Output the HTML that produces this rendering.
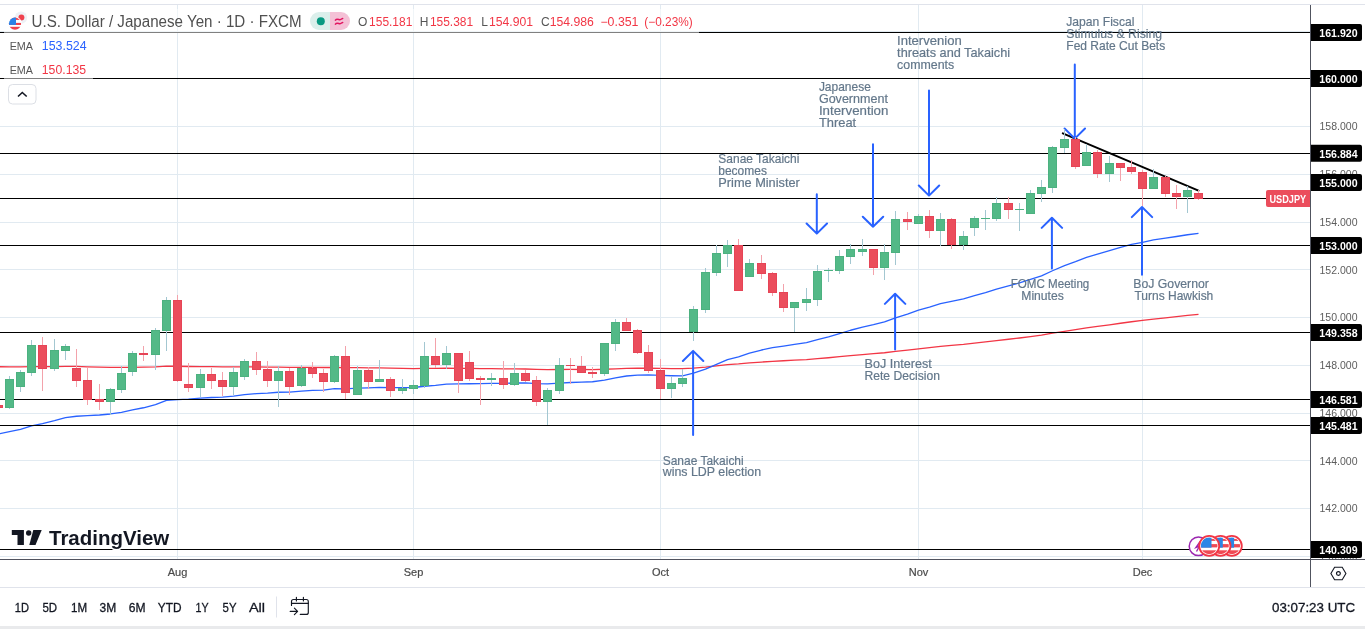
<!DOCTYPE html><html><head><meta charset="utf-8"><style>
html,body{margin:0;padding:0;background:#fff;}
body{width:1365px;height:629px;overflow:hidden;position:relative;font-family:"Liberation Sans",sans-serif;}
svg{position:absolute;left:0;top:0;will-change:transform;}
.tb{position:absolute;top:598px;font-size:13px;color:#131722;line-height:18px;}

</style></head><body>
<svg width="1365" height="629" viewBox="0 0 1365 629">
<rect x="0" y="4" width="1365" height="1" fill="#e0e3eb"/>
<g fill="#e1eaf1" shape-rendering="crispEdges"><rect x="0" y="31" width="1310" height="1"/><rect x="0" y="78" width="1310" height="1"/><rect x="0" y="126" width="1310" height="1"/><rect x="0" y="174" width="1310" height="1"/><rect x="0" y="222" width="1310" height="1"/><rect x="0" y="269" width="1310" height="1"/><rect x="0" y="317" width="1310" height="1"/><rect x="0" y="365" width="1310" height="1"/><rect x="0" y="413" width="1310" height="1"/><rect x="0" y="460" width="1310" height="1"/><rect x="0" y="508" width="1310" height="1"/><rect x="0" y="556" width="1310" height="1"/><rect x="177" y="5" width="1" height="554"/><rect x="413" y="5" width="1" height="554"/><rect x="660" y="5" width="1" height="554"/><rect x="918" y="5" width="1" height="554"/><rect x="1142" y="5" width="1" height="554"/></g>
<path d="M-1.5,366.73 L9.5,366.85 L20.5,366.9 L31.5,366.68 L42.5,366.7 L54.5,366.53 L65.5,366.32 L76.5,366.46 L87.5,366.8 L99.5,367.16 L110.5,367.38 L121.5,367.44 L132.5,367.29 L143.5,367.16 L155.5,366.79 L166.5,366.1 L177.5,366.26 L188.5,366.48 L200.5,366.55 L211.5,366.7 L222.5,366.9 L233.5,366.95 L244.5,366.89 L256.5,366.92 L267.5,367.06 L278.5,367.1 L289.5,367.3 L301.5,367.31 L312.5,367.37 L323.5,367.52 L334.5,367.4 L345.5,367.66 L357.5,367.68 L368.5,367.83 L379.5,367.94 L390.5,368.17 L402.5,368.37 L413.5,368.54 L424.5,368.42 L435.5,368.38 L446.5,368.22 L458.5,368.35 L469.5,368.46 L480.5,368.57 L491.5,368.67 L503.5,368.83 L514.5,368.87 L525.5,369.0 L536.5,369.33 L547.5,369.54 L559.5,369.5 L570.5,369.46 L581.5,369.49 L592.5,369.53 L604.5,369.27 L615.5,368.78 L626.5,368.39 L637.5,368.23 L648.5,368.26 L660.5,368.47 L671.5,368.62 L682.5,368.71 L693.5,368.1 L705.5,367.12 L716.5,365.96 L727.5,364.72 L738.5,363.97 L749.5,362.94 L761.5,362.03 L772.5,361.32 L783.5,360.77 L794.5,360.17 L806.5,359.55 L817.5,358.65 L828.5,357.74 L839.5,356.7 L850.5,355.6 L862.5,354.56 L873.5,353.72 L884.5,352.74 L895.5,351.42 L907.5,350.15 L918.5,348.83 L929.5,347.67 L940.5,346.41 L951.5,345.43 L963.5,344.36 L974.5,343.13 L985.5,341.9 L996.5,340.54 L1008.5,339.25 L1019.5,337.98 L1030.5,336.55 L1041.5,335.08 L1052.5,333.22 L1064.5,331.29 L1075.5,329.67 L1086.5,327.92 L1097.5,326.4 L1109.5,324.79 L1120.5,323.24 L1131.5,321.76 L1142.5,320.46 L1153.5,319.05 L1165.5,317.84 L1176.5,316.66 L1187.5,315.43 L1198.5,314.3" fill="none" stroke="#f23645" stroke-width="1.3" stroke-linejoin="round"/>
<path d="M-1.5,433.92 L9.5,431.73 L20.5,429.33 L31.5,425.96 L42.5,423.67 L54.5,420.72 L65.5,417.73 L76.5,416.24 L87.5,415.58 L99.5,415.02 L110.5,413.98 L121.5,412.34 L132.5,409.96 L143.5,407.76 L155.5,404.66 L166.5,400.47 L177.5,399.69 L188.5,399.21 L200.5,398.21 L211.5,397.5 L222.5,397.07 L233.5,396.07 L244.5,394.66 L256.5,393.67 L267.5,393.15 L278.5,392.26 L289.5,392.04 L301.5,391.07 L312.5,390.39 L323.5,390.04 L334.5,388.68 L345.5,388.83 L357.5,388.08 L368.5,387.83 L379.5,387.47 L390.5,387.6 L402.5,387.61 L413.5,387.5 L424.5,386.24 L435.5,385.38 L446.5,384.08 L458.5,383.96 L469.5,383.75 L480.5,383.59 L491.5,383.36 L503.5,383.42 L514.5,383.0 L525.5,382.92 L536.5,383.67 L547.5,383.93 L559.5,383.18 L570.5,382.49 L581.5,382.1 L592.5,381.75 L604.5,380.21 L615.5,377.88 L626.5,375.99 L637.5,375.06 L648.5,374.89 L660.5,375.44 L671.5,375.74 L682.5,375.83 L693.5,373.16 L705.5,369.11 L716.5,364.47 L727.5,359.69 L738.5,356.94 L749.5,353.18 L761.5,350.01 L772.5,347.72 L783.5,346.11 L794.5,344.34 L806.5,342.52 L817.5,339.66 L828.5,336.87 L839.5,333.64 L850.5,330.25 L862.5,327.05 L873.5,324.73 L884.5,321.88 L895.5,317.82 L907.5,314.04 L918.5,310.18 L929.5,307.06 L940.5,303.61 L951.5,301.32 L963.5,298.77 L974.5,295.61 L985.5,292.57 L996.5,289.06 L1008.5,285.96 L1019.5,282.95 L1030.5,279.43 L1041.5,275.82 L1052.5,270.74 L1064.5,265.56 L1075.5,261.69 L1086.5,257.4 L1097.5,254.15 L1109.5,250.59 L1120.5,247.36 L1131.5,244.42 L1142.5,242.29 L1153.5,239.78 L1165.5,238.04 L1176.5,236.49 L1187.5,234.74 L1198.5,233.4" fill="none" stroke="#2962ff" stroke-width="1.3" stroke-linejoin="round"/>
<g fill="#000" shape-rendering="crispEdges"><rect x="0" y="32" width="1310" height="1"/><rect x="0" y="78" width="1310" height="1"/><rect x="0" y="153" width="1310" height="1"/><rect x="0" y="198" width="1310" height="1"/><rect x="0" y="245" width="1310" height="1"/><rect x="0" y="332" width="1310" height="1"/><rect x="0" y="399" width="1310" height="1"/><rect x="0" y="425" width="1310" height="1"/><rect x="0" y="549" width="1310" height="1"/></g>
<line x1="1062.8" y1="133.4" x2="1198.5" y2="190.6" stroke="#000" stroke-width="2" stroke-linecap="round"/>
<path d="M693.1,435 L693.1,350.9 M682.9,361.0 L693.1,350.9 L703.3000000000001,361.0 M816.8,194.3 L816.8,233.6 M806.5999999999999,223.5 L816.8,233.6 L827.0,223.5 M873,144.3 L873,226.8 M862.8,216.70000000000002 L873,226.8 L883.2,216.70000000000002 M895.1,349.6 L895.1,293.8 M884.9,303.90000000000003 L895.1,293.8 L905.3000000000001,303.90000000000003 M929,90.5 L929,195.6 M918.8,185.5 L929,195.6 L939.2,185.5 M1051.9,268.6 L1051.9,217.8 M1041.7,227.9 L1051.9,217.8 L1062.1000000000001,227.9 M1074.8,64.6 L1074.8,138.6 M1064.6,128.5 L1074.8,138.6 L1085.0,128.5 M1142,274.7 L1142,207 M1131.8,217.1 L1142,207 L1152.2,217.1" fill="none" stroke="#2962ff" stroke-width="2" stroke-linecap="round" stroke-linejoin="round"/>
<g shape-rendering="crispEdges"><rect x="-2" y="405" width="1" height="3" fill="#f3a2ab"/><rect x="9" y="376" width="1" height="33" fill="#a3c7d1"/><rect x="20" y="370" width="1" height="22" fill="#a3c7d1"/><rect x="31" y="340" width="1" height="36" fill="#a3c7d1"/><rect x="42" y="337" width="1" height="54" fill="#f3a2ab"/><rect x="54" y="339" width="1" height="32" fill="#a3c7d1"/><rect x="65" y="344" width="1" height="16" fill="#a3c7d1"/><rect x="76" y="349" width="1" height="38" fill="#f3a2ab"/><rect x="87" y="368" width="1" height="37" fill="#f3a2ab"/><rect x="99" y="384" width="1" height="26" fill="#f3a2ab"/><rect x="110" y="388" width="1" height="27" fill="#a3c7d1"/><rect x="121" y="366" width="1" height="27" fill="#a3c7d1"/><rect x="132" y="351" width="1" height="25" fill="#a3c7d1"/><rect x="143" y="346" width="1" height="15" fill="#f3a2ab"/><rect x="155" y="328" width="1" height="42" fill="#a3c7d1"/><rect x="166" y="297" width="1" height="54" fill="#a3c7d1"/><rect x="177" y="295" width="1" height="87" fill="#f3a2ab"/><rect x="188" y="363" width="1" height="29" fill="#f3a2ab"/><rect x="200" y="369" width="1" height="28" fill="#a3c7d1"/><rect x="211" y="368" width="1" height="21" fill="#f3a2ab"/><rect x="222" y="372" width="1" height="24" fill="#f3a2ab"/><rect x="233" y="367" width="1" height="28" fill="#a3c7d1"/><rect x="244" y="359" width="1" height="21" fill="#a3c7d1"/><rect x="256" y="352" width="1" height="23" fill="#f3a2ab"/><rect x="267" y="361" width="1" height="26" fill="#f3a2ab"/><rect x="278" y="366" width="1" height="41" fill="#a3c7d1"/><rect x="289" y="368" width="1" height="27" fill="#f3a2ab"/><rect x="301" y="365" width="1" height="22" fill="#a3c7d1"/><rect x="312" y="362" width="1" height="16" fill="#f3a2ab"/><rect x="323" y="369" width="1" height="23" fill="#f3a2ab"/><rect x="334" y="355" width="1" height="28" fill="#a3c7d1"/><rect x="345" y="346" width="1" height="53" fill="#f3a2ab"/><rect x="357" y="366" width="1" height="29" fill="#a3c7d1"/><rect x="368" y="367" width="1" height="22" fill="#f3a2ab"/><rect x="379" y="360" width="1" height="22" fill="#a3c7d1"/><rect x="390" y="377" width="1" height="20" fill="#f3a2ab"/><rect x="402" y="379" width="1" height="15" fill="#a3c7d1"/><rect x="413" y="380" width="1" height="14" fill="#a3c7d1"/><rect x="424" y="342" width="1" height="46" fill="#a3c7d1"/><rect x="435" y="338" width="1" height="30" fill="#f3a2ab"/><rect x="446" y="346" width="1" height="23" fill="#a3c7d1"/><rect x="458" y="353" width="1" height="40" fill="#f3a2ab"/><rect x="469" y="351" width="1" height="30" fill="#f3a2ab"/><rect x="480" y="376" width="1" height="29" fill="#f3a2ab"/><rect x="491" y="373" width="1" height="13" fill="#a3c7d1"/><rect x="503" y="361" width="1" height="28" fill="#f3a2ab"/><rect x="514" y="363" width="1" height="23" fill="#a3c7d1"/><rect x="525" y="370" width="1" height="12" fill="#f3a2ab"/><rect x="536" y="376" width="1" height="30" fill="#f3a2ab"/><rect x="547" y="388" width="1" height="37" fill="#a3c7d1"/><rect x="559" y="358" width="1" height="36" fill="#a3c7d1"/><rect x="570" y="358" width="1" height="26" fill="#f3a2ab"/><rect x="581" y="356" width="1" height="17" fill="#f3a2ab"/><rect x="592" y="367" width="1" height="11" fill="#f3a2ab"/><rect x="604" y="343" width="1" height="33" fill="#a3c7d1"/><rect x="615" y="319" width="1" height="32" fill="#a3c7d1"/><rect x="626" y="318" width="1" height="13" fill="#f3a2ab"/><rect x="637" y="329" width="1" height="25" fill="#f3a2ab"/><rect x="648" y="345" width="1" height="28" fill="#f3a2ab"/><rect x="660" y="359" width="1" height="40" fill="#f3a2ab"/><rect x="671" y="376" width="1" height="22" fill="#a3c7d1"/><rect x="682" y="369" width="1" height="18" fill="#a3c7d1"/><rect x="693" y="306" width="1" height="35" fill="#a3c7d1"/><rect x="705" y="268" width="1" height="45" fill="#a3c7d1"/><rect x="716" y="245" width="1" height="31" fill="#a3c7d1"/><rect x="727" y="240" width="1" height="27" fill="#a3c7d1"/><rect x="738" y="239" width="1" height="52" fill="#f3a2ab"/><rect x="749" y="259" width="1" height="18" fill="#a3c7d1"/><rect x="761" y="255" width="1" height="24" fill="#f3a2ab"/><rect x="772" y="272" width="1" height="24" fill="#f3a2ab"/><rect x="783" y="284" width="1" height="28" fill="#f3a2ab"/><rect x="794" y="302" width="1" height="30" fill="#a3c7d1"/><rect x="806" y="288" width="1" height="23" fill="#a3c7d1"/><rect x="817" y="265" width="1" height="41" fill="#a3c7d1"/><rect x="828" y="268" width="1" height="14" fill="#a3c7d1"/><rect x="839" y="250" width="1" height="24" fill="#a3c7d1"/><rect x="850" y="244" width="1" height="20" fill="#a3c7d1"/><rect x="862" y="239" width="1" height="17" fill="#a3c7d1"/><rect x="873" y="249" width="1" height="26" fill="#f3a2ab"/><rect x="884" y="244" width="1" height="36" fill="#a3c7d1"/><rect x="895" y="211" width="1" height="54" fill="#a3c7d1"/><rect x="907" y="212" width="1" height="18" fill="#f3a2ab"/><rect x="918" y="214" width="1" height="10" fill="#a3c7d1"/><rect x="929" y="210" width="1" height="28" fill="#f3a2ab"/><rect x="940" y="213" width="1" height="33" fill="#a3c7d1"/><rect x="951" y="218" width="1" height="31" fill="#f3a2ab"/><rect x="963" y="231" width="1" height="19" fill="#a3c7d1"/><rect x="974" y="216" width="1" height="20" fill="#a3c7d1"/><rect x="985" y="210" width="1" height="20" fill="#a3c7d1"/><rect x="996" y="197" width="1" height="24" fill="#a3c7d1"/><rect x="1008" y="197" width="1" height="22" fill="#f3a2ab"/><rect x="1019" y="203" width="1" height="28" fill="#a3c7d1"/><rect x="1030" y="190" width="1" height="24" fill="#a3c7d1"/><rect x="1041" y="180" width="1" height="22" fill="#a3c7d1"/><rect x="1052" y="146" width="1" height="47" fill="#a3c7d1"/><rect x="1064" y="129" width="1" height="24" fill="#a3c7d1"/><rect x="1075" y="137" width="1" height="32" fill="#f3a2ab"/><rect x="1086" y="144" width="1" height="22" fill="#a3c7d1"/><rect x="1097" y="150" width="1" height="28" fill="#f3a2ab"/><rect x="1109" y="156" width="1" height="26" fill="#a3c7d1"/><rect x="1120" y="163" width="1" height="18" fill="#f3a2ab"/><rect x="1131" y="160" width="1" height="14" fill="#f3a2ab"/><rect x="1142" y="170" width="1" height="36" fill="#f3a2ab"/><rect x="1153" y="169" width="1" height="20" fill="#a3c7d1"/><rect x="1165" y="176" width="1" height="21" fill="#f3a2ab"/><rect x="1176" y="185" width="1" height="24" fill="#f3a2ab"/><rect x="1187" y="186" width="1" height="27" fill="#a3c7d1"/><rect x="1198" y="190" width="1" height="10" fill="#f3a2ab"/><rect x="-6" y="405" width="9" height="3" fill="#e64456"/><rect x="-5" y="406" width="7" height="1" fill="#eb4d5c"/><rect x="5" y="379" width="9" height="29" fill="#4cb180"/><rect x="6" y="380" width="7" height="27" fill="#53b987"/><rect x="16" y="372" width="9" height="15" fill="#4cb180"/><rect x="17" y="373" width="7" height="13" fill="#53b987"/><rect x="27" y="345" width="9" height="28" fill="#4cb180"/><rect x="28" y="346" width="7" height="26" fill="#53b987"/><rect x="38" y="345" width="9" height="24" fill="#e64456"/><rect x="39" y="346" width="7" height="22" fill="#eb4d5c"/><rect x="50" y="350" width="9" height="19" fill="#4cb180"/><rect x="51" y="351" width="7" height="17" fill="#53b987"/><rect x="61" y="346" width="9" height="5" fill="#4cb180"/><rect x="62" y="347" width="7" height="3" fill="#53b987"/><rect x="72" y="368" width="9" height="13" fill="#e64456"/><rect x="73" y="369" width="7" height="11" fill="#eb4d5c"/><rect x="83" y="380" width="9" height="20" fill="#e64456"/><rect x="84" y="381" width="7" height="18" fill="#eb4d5c"/><rect x="95" y="399" width="9" height="3" fill="#e64456"/><rect x="96" y="400" width="7" height="1" fill="#eb4d5c"/><rect x="106" y="389" width="9" height="13" fill="#4cb180"/><rect x="107" y="390" width="7" height="11" fill="#53b987"/><rect x="117" y="373" width="9" height="17" fill="#4cb180"/><rect x="118" y="374" width="7" height="15" fill="#53b987"/><rect x="128" y="353" width="9" height="19" fill="#4cb180"/><rect x="129" y="354" width="7" height="17" fill="#53b987"/><rect x="139" y="353" width="9" height="2" fill="#e64456"/><rect x="151" y="330" width="9" height="25" fill="#4cb180"/><rect x="152" y="331" width="7" height="23" fill="#53b987"/><rect x="162" y="300" width="9" height="31" fill="#4cb180"/><rect x="163" y="301" width="7" height="29" fill="#53b987"/><rect x="173" y="300" width="9" height="81" fill="#e64456"/><rect x="174" y="301" width="7" height="79" fill="#eb4d5c"/><rect x="184" y="384" width="9" height="4" fill="#e64456"/><rect x="185" y="385" width="7" height="2" fill="#eb4d5c"/><rect x="196" y="374" width="9" height="14" fill="#4cb180"/><rect x="197" y="375" width="7" height="12" fill="#53b987"/><rect x="207" y="374" width="9" height="7" fill="#e64456"/><rect x="208" y="375" width="7" height="5" fill="#eb4d5c"/><rect x="218" y="380" width="9" height="7" fill="#e64456"/><rect x="219" y="381" width="7" height="5" fill="#eb4d5c"/><rect x="229" y="372" width="9" height="15" fill="#4cb180"/><rect x="230" y="373" width="7" height="13" fill="#53b987"/><rect x="240" y="361" width="9" height="16" fill="#4cb180"/><rect x="241" y="362" width="7" height="14" fill="#53b987"/><rect x="252" y="361" width="9" height="9" fill="#e64456"/><rect x="253" y="362" width="7" height="7" fill="#eb4d5c"/><rect x="263" y="369" width="9" height="12" fill="#e64456"/><rect x="264" y="370" width="7" height="10" fill="#eb4d5c"/><rect x="274" y="371" width="9" height="10" fill="#4cb180"/><rect x="275" y="372" width="7" height="8" fill="#53b987"/><rect x="285" y="371" width="9" height="16" fill="#e64456"/><rect x="286" y="372" width="7" height="14" fill="#eb4d5c"/><rect x="297" y="368" width="9" height="18" fill="#4cb180"/><rect x="298" y="369" width="7" height="16" fill="#53b987"/><rect x="308" y="368" width="9" height="6" fill="#e64456"/><rect x="309" y="369" width="7" height="4" fill="#eb4d5c"/><rect x="319" y="373" width="9" height="9" fill="#e64456"/><rect x="320" y="374" width="7" height="7" fill="#eb4d5c"/><rect x="330" y="356" width="9" height="26" fill="#4cb180"/><rect x="331" y="357" width="7" height="24" fill="#53b987"/><rect x="341" y="356" width="9" height="37" fill="#e64456"/><rect x="342" y="357" width="7" height="35" fill="#eb4d5c"/><rect x="353" y="370" width="9" height="25" fill="#4cb180"/><rect x="354" y="371" width="7" height="23" fill="#53b987"/><rect x="364" y="370" width="9" height="12" fill="#e64456"/><rect x="365" y="371" width="7" height="10" fill="#eb4d5c"/><rect x="375" y="379" width="9" height="3" fill="#4cb180"/><rect x="376" y="380" width="7" height="1" fill="#53b987"/><rect x="386" y="379" width="9" height="12" fill="#e64456"/><rect x="387" y="380" width="7" height="10" fill="#eb4d5c"/><rect x="398" y="388" width="9" height="3" fill="#4cb180"/><rect x="399" y="389" width="7" height="1" fill="#53b987"/><rect x="409" y="385" width="9" height="4" fill="#4cb180"/><rect x="410" y="386" width="7" height="2" fill="#53b987"/><rect x="420" y="356" width="9" height="30" fill="#4cb180"/><rect x="421" y="357" width="7" height="28" fill="#53b987"/><rect x="431" y="356" width="9" height="9" fill="#e64456"/><rect x="432" y="357" width="7" height="7" fill="#eb4d5c"/><rect x="442" y="353" width="9" height="12" fill="#4cb180"/><rect x="443" y="354" width="7" height="10" fill="#53b987"/><rect x="454" y="353" width="9" height="28" fill="#e64456"/><rect x="455" y="354" width="7" height="26" fill="#eb4d5c"/><rect x="465" y="362" width="9" height="17" fill="#e64456"/><rect x="466" y="363" width="7" height="15" fill="#eb4d5c"/><rect x="476" y="378" width="9" height="2" fill="#e64456"/><rect x="487" y="378" width="9" height="2" fill="#4cb180"/><rect x="499" y="378" width="9" height="7" fill="#e64456"/><rect x="500" y="379" width="7" height="5" fill="#eb4d5c"/><rect x="510" y="373" width="9" height="12" fill="#4cb180"/><rect x="511" y="374" width="7" height="10" fill="#53b987"/><rect x="521" y="373" width="9" height="8" fill="#e64456"/><rect x="522" y="374" width="7" height="6" fill="#eb4d5c"/><rect x="532" y="380" width="9" height="22" fill="#e64456"/><rect x="533" y="381" width="7" height="20" fill="#eb4d5c"/><rect x="543" y="390" width="9" height="12" fill="#4cb180"/><rect x="544" y="391" width="7" height="10" fill="#53b987"/><rect x="555" y="365" width="9" height="26" fill="#4cb180"/><rect x="556" y="366" width="7" height="24" fill="#53b987"/><rect x="566" y="365" width="9" height="1" fill="#e64456"/><rect x="577" y="366" width="9" height="7" fill="#e64456"/><rect x="578" y="367" width="7" height="5" fill="#eb4d5c"/><rect x="588" y="372" width="9" height="2" fill="#e64456"/><rect x="600" y="343" width="9" height="31" fill="#4cb180"/><rect x="601" y="344" width="7" height="29" fill="#53b987"/><rect x="611" y="322" width="9" height="22" fill="#4cb180"/><rect x="612" y="323" width="7" height="20" fill="#53b987"/><rect x="622" y="322" width="9" height="9" fill="#e64456"/><rect x="623" y="323" width="7" height="7" fill="#eb4d5c"/><rect x="633" y="330" width="9" height="23" fill="#e64456"/><rect x="634" y="331" width="7" height="21" fill="#eb4d5c"/><rect x="644" y="352" width="9" height="19" fill="#e64456"/><rect x="645" y="353" width="7" height="17" fill="#eb4d5c"/><rect x="656" y="370" width="9" height="19" fill="#e64456"/><rect x="657" y="371" width="7" height="17" fill="#eb4d5c"/><rect x="667" y="383" width="9" height="6" fill="#4cb180"/><rect x="668" y="384" width="7" height="4" fill="#53b987"/><rect x="678" y="378" width="9" height="6" fill="#4cb180"/><rect x="679" y="379" width="7" height="4" fill="#53b987"/><rect x="689" y="309" width="9" height="23" fill="#4cb180"/><rect x="690" y="310" width="7" height="21" fill="#53b987"/><rect x="701" y="272" width="9" height="38" fill="#4cb180"/><rect x="702" y="273" width="7" height="36" fill="#53b987"/><rect x="712" y="253" width="9" height="20" fill="#4cb180"/><rect x="713" y="254" width="7" height="18" fill="#53b987"/><rect x="723" y="245" width="9" height="9" fill="#4cb180"/><rect x="724" y="246" width="7" height="7" fill="#53b987"/><rect x="734" y="245" width="9" height="46" fill="#e64456"/><rect x="735" y="246" width="7" height="44" fill="#eb4d5c"/><rect x="745" y="263" width="9" height="14" fill="#4cb180"/><rect x="746" y="264" width="7" height="12" fill="#53b987"/><rect x="757" y="263" width="9" height="11" fill="#e64456"/><rect x="758" y="264" width="7" height="9" fill="#eb4d5c"/><rect x="768" y="273" width="9" height="20" fill="#e64456"/><rect x="769" y="274" width="7" height="18" fill="#eb4d5c"/><rect x="779" y="292" width="9" height="16" fill="#e64456"/><rect x="780" y="293" width="7" height="14" fill="#eb4d5c"/><rect x="790" y="302" width="9" height="6" fill="#4cb180"/><rect x="791" y="303" width="7" height="4" fill="#53b987"/><rect x="802" y="299" width="9" height="4" fill="#4cb180"/><rect x="803" y="300" width="7" height="2" fill="#53b987"/><rect x="813" y="271" width="9" height="29" fill="#4cb180"/><rect x="814" y="272" width="7" height="27" fill="#53b987"/><rect x="824" y="270" width="9" height="1" fill="#4cb180"/><rect x="835" y="256" width="9" height="15" fill="#4cb180"/><rect x="836" y="257" width="7" height="13" fill="#53b987"/><rect x="846" y="249" width="9" height="8" fill="#4cb180"/><rect x="847" y="250" width="7" height="6" fill="#53b987"/><rect x="858" y="249" width="9" height="3" fill="#4cb180"/><rect x="859" y="250" width="7" height="1" fill="#53b987"/><rect x="869" y="249" width="9" height="19" fill="#e64456"/><rect x="870" y="250" width="7" height="17" fill="#eb4d5c"/><rect x="880" y="252" width="9" height="16" fill="#4cb180"/><rect x="881" y="253" width="7" height="14" fill="#53b987"/><rect x="891" y="219" width="9" height="34" fill="#4cb180"/><rect x="892" y="220" width="7" height="32" fill="#53b987"/><rect x="903" y="219" width="9" height="3" fill="#e64456"/><rect x="904" y="220" width="7" height="1" fill="#eb4d5c"/><rect x="914" y="216" width="9" height="8" fill="#4cb180"/><rect x="915" y="217" width="7" height="6" fill="#53b987"/><rect x="925" y="216" width="9" height="15" fill="#e64456"/><rect x="926" y="217" width="7" height="13" fill="#eb4d5c"/><rect x="936" y="219" width="9" height="12" fill="#4cb180"/><rect x="937" y="220" width="7" height="10" fill="#53b987"/><rect x="947" y="219" width="9" height="26" fill="#e64456"/><rect x="948" y="220" width="7" height="24" fill="#eb4d5c"/><rect x="959" y="236" width="9" height="9" fill="#4cb180"/><rect x="960" y="237" width="7" height="7" fill="#53b987"/><rect x="970" y="218" width="9" height="10" fill="#4cb180"/><rect x="971" y="219" width="7" height="8" fill="#53b987"/><rect x="981" y="218" width="9" height="1" fill="#4cb180"/><rect x="992" y="203" width="9" height="16" fill="#4cb180"/><rect x="993" y="204" width="7" height="14" fill="#53b987"/><rect x="1004" y="203" width="9" height="7" fill="#e64456"/><rect x="1005" y="204" width="7" height="5" fill="#eb4d5c"/><rect x="1015" y="209" width="9" height="1" fill="#4cb180"/><rect x="1026" y="193" width="9" height="21" fill="#4cb180"/><rect x="1027" y="194" width="7" height="19" fill="#53b987"/><rect x="1037" y="187" width="9" height="7" fill="#4cb180"/><rect x="1038" y="188" width="7" height="5" fill="#53b987"/><rect x="1048" y="147" width="9" height="41" fill="#4cb180"/><rect x="1049" y="148" width="7" height="39" fill="#53b987"/><rect x="1060" y="139" width="9" height="9" fill="#4cb180"/><rect x="1061" y="140" width="7" height="7" fill="#53b987"/><rect x="1071" y="139" width="9" height="28" fill="#e64456"/><rect x="1072" y="140" width="7" height="26" fill="#eb4d5c"/><rect x="1082" y="152" width="9" height="14" fill="#4cb180"/><rect x="1083" y="153" width="7" height="12" fill="#53b987"/><rect x="1093" y="152" width="9" height="22" fill="#e64456"/><rect x="1094" y="153" width="7" height="20" fill="#eb4d5c"/><rect x="1105" y="163" width="9" height="11" fill="#4cb180"/><rect x="1106" y="164" width="7" height="9" fill="#53b987"/><rect x="1116" y="163" width="9" height="5" fill="#e64456"/><rect x="1117" y="164" width="7" height="3" fill="#eb4d5c"/><rect x="1127" y="167" width="9" height="5" fill="#e64456"/><rect x="1128" y="168" width="7" height="3" fill="#eb4d5c"/><rect x="1138" y="172" width="9" height="17" fill="#e64456"/><rect x="1139" y="173" width="7" height="15" fill="#eb4d5c"/><rect x="1149" y="177" width="9" height="12" fill="#4cb180"/><rect x="1150" y="178" width="7" height="10" fill="#53b987"/><rect x="1161" y="177" width="9" height="17" fill="#e64456"/><rect x="1162" y="178" width="7" height="15" fill="#eb4d5c"/><rect x="1172" y="193" width="9" height="4" fill="#e64456"/><rect x="1173" y="194" width="7" height="2" fill="#eb4d5c"/><rect x="1183" y="190" width="9" height="7" fill="#4cb180"/><rect x="1184" y="191" width="7" height="5" fill="#53b987"/><rect x="1194" y="193" width="9" height="6" fill="#e64456"/><rect x="1195" y="194" width="7" height="4" fill="#eb4d5c"/></g>
<g font-family="Liberation Sans, sans-serif" font-size="12.2" fill="#63778a" stroke="#63778a" stroke-width="0.2"><text x="718.3" y="162.9" textLength="81.1" lengthAdjust="spacingAndGlyphs">Sanae Takaichi</text><text x="718.3" y="174.8" textLength="48.6" lengthAdjust="spacingAndGlyphs">becomes</text><text x="718.3" y="186.7" textLength="81.5" lengthAdjust="spacingAndGlyphs">Prime Minister</text><text x="818.9" y="91" textLength="51.9" lengthAdjust="spacingAndGlyphs">Japanese</text><text x="818.9" y="103" textLength="69" lengthAdjust="spacingAndGlyphs">Government</text><text x="818.9" y="115" textLength="69.5" lengthAdjust="spacingAndGlyphs">Intervention</text><text x="818.9" y="127" textLength="37.3" lengthAdjust="spacingAndGlyphs">Threat</text><text x="897.1" y="44.8" textLength="64.6" lengthAdjust="spacingAndGlyphs">Intervenion</text><text x="897.1" y="56.8" textLength="113" lengthAdjust="spacingAndGlyphs">threats and Takaichi</text><text x="897.1" y="68.8" textLength="57.1" lengthAdjust="spacingAndGlyphs">comments</text><text x="1066.3" y="25.5" textLength="68.1" lengthAdjust="spacingAndGlyphs">Japan Fiscal</text><text x="1066.3" y="37.5" textLength="95.8" lengthAdjust="spacingAndGlyphs">Stimulus &amp; Rising</text><text x="1066.3" y="49.5" textLength="98.9" lengthAdjust="spacingAndGlyphs">Fed Rate Cut Bets</text><text x="1010.7" y="287.9" textLength="78.6" lengthAdjust="spacingAndGlyphs">FOMC Meeting</text><text x="1021.3" y="299.8" textLength="42.5" lengthAdjust="spacingAndGlyphs">Minutes</text><text x="1133.3" y="287.9" textLength="75.6" lengthAdjust="spacingAndGlyphs">BoJ Governor</text><text x="1134.5" y="299.8" textLength="78.8" lengthAdjust="spacingAndGlyphs">Turns Hawkish</text><text x="864.5" y="367.5" textLength="67.3" lengthAdjust="spacingAndGlyphs">BoJ Interest</text><text x="864.5" y="379.5" textLength="75.5" lengthAdjust="spacingAndGlyphs">Rete Decision</text><text x="662.7" y="464.5" textLength="81" lengthAdjust="spacingAndGlyphs">Sanae Takaichi</text><text x="662.7" y="476.4" textLength="98.4" lengthAdjust="spacingAndGlyphs">wins LDP election</text></g>
<rect x="4" y="9" width="695" height="24" fill="#fff" fill-opacity="0.5"/>
<rect x="4" y="35" width="89" height="45" fill="#fff" fill-opacity="0.5"/>
<circle cx="21" cy="17.7" r="6.2" fill="#eef1f6"/>
<circle cx="21.4" cy="17.4" r="3" fill="#f0424f"/>
<clipPath id="usf"><circle cx="15" cy="23.7" r="6.1"/></clipPath>
<circle cx="15" cy="23.7" r="6.9" fill="#fff"/>
<g clip-path="url(#usf)"><rect x="8" y="17" width="14" height="14" fill="#fff"/><rect x="8" y="17" width="14" height="2.9" fill="#f0424f"/><rect x="8" y="22.9" width="14" height="2.1" fill="#f0424f"/><rect x="8" y="26.8" width="14" height="4" fill="#f0424f"/><rect x="8" y="17" width="8" height="7.9" fill="#2b83e8"/></g>
<text x="31.6" y="26.9" font-family="Liberation Sans, sans-serif" font-size="16" fill="#505050" textLength="270" lengthAdjust="spacingAndGlyphs">U.S. Dollar / Japanese Yen · 1D · FXCM</text>
<path d="M319,12 H330 V30 H319 A9,9 0 0 1 319,12 Z" fill="#dbefeb"/>
<path d="M330,12 H341 A9,9 0 0 1 341,30 H330 Z" fill="#f4c1d6"/>
<circle cx="320.8" cy="21.2" r="4" fill="#089981"/>
<path d="M335.4,20.1 C337.3,17.6 339.5,20.6 340.6,19.5 C341.6,18.8 342.2,18.5 342.7,18.4 M335.4,24.1 C337.3,21.6 339.5,24.6 340.6,23.5 C341.6,22.8 342.2,22.5 342.7,22.4" fill="none" stroke="#e2135f" stroke-width="1.5" stroke-linecap="round"/>
<text x="358.1" y="25.9" font-family="Liberation Sans, sans-serif" font-size="12" fill="#555">O</text><text x="369.1" y="25.9" font-family="Liberation Sans, sans-serif" font-size="12" fill="#f23645" textLength="43.2" lengthAdjust="spacingAndGlyphs">155.181</text><text x="419.7" y="25.9" font-family="Liberation Sans, sans-serif" font-size="12" fill="#555">H</text><text x="429.9" y="25.9" font-family="Liberation Sans, sans-serif" font-size="12" fill="#f23645" textLength="43.3" lengthAdjust="spacingAndGlyphs">155.381</text><text x="481.2" y="25.9" font-family="Liberation Sans, sans-serif" font-size="12" fill="#555">L</text><text x="489" y="25.9" font-family="Liberation Sans, sans-serif" font-size="12" fill="#f23645" textLength="44" lengthAdjust="spacingAndGlyphs">154.901</text><text x="540.9" y="25.9" font-family="Liberation Sans, sans-serif" font-size="12" fill="#555">C</text><text x="549.7" y="25.9" font-family="Liberation Sans, sans-serif" font-size="12" fill="#f23645" textLength="44.2" lengthAdjust="spacingAndGlyphs">154.986</text><text x="600.4" y="25.9" font-family="Liberation Sans, sans-serif" font-size="12" fill="#f23645" textLength="38.1" lengthAdjust="spacingAndGlyphs">−0.351</text><text x="644.3" y="25.9" font-family="Liberation Sans, sans-serif" font-size="12" fill="#f23645" textLength="48.4" lengthAdjust="spacingAndGlyphs">(−0.23%)</text><text x="9.7" y="49.8" font-family="Liberation Sans, sans-serif" font-size="11.5" fill="#555" textLength="23.3" lengthAdjust="spacingAndGlyphs">EMA</text><text x="41.8" y="49.8" font-family="Liberation Sans, sans-serif" font-size="12" fill="#2962ff" textLength="44.8" lengthAdjust="spacingAndGlyphs">153.524</text><text x="9.7" y="73.7" font-family="Liberation Sans, sans-serif" font-size="11.5" fill="#555" textLength="23.3" lengthAdjust="spacingAndGlyphs">EMA</text><text x="41.8" y="73.7" font-family="Liberation Sans, sans-serif" font-size="12" fill="#f23645" textLength="44.3" lengthAdjust="spacingAndGlyphs">150.135</text>
<rect x="8.5" y="84.5" width="27.5" height="19.5" rx="4" fill="#fff" stroke="#dcdfe5"/>
<path d="M18,96.5 L22.3,92.5 L26.7,96.5" fill="none" stroke="#131722" stroke-width="1.6"/>
<g fill="#131722"><path d="M11.8,530 H23.9 V545 H17.5 V535.1 H11.8 Z"/><circle cx="28.7" cy="533" r="2.7"/><path d="M33.3,530 H41.7 L35.5,545 H29.3 Z"/></g>
<text x="49" y="545" font-family="Liberation Sans, sans-serif" font-size="20.5" font-weight="bold" fill="#131722" stroke="#fff" stroke-width="3" paint-order="stroke" textLength="120.3" lengthAdjust="spacingAndGlyphs">TradingView</text>
<circle cx="1198.5" cy="546.3" r="9.3" fill="#fff" stroke="#9c27b0" stroke-width="1.5"/>
<path d="M1200.2,541.5 L1196,547.5 L1199.5,546 L1196.5,551.5" fill="none" stroke="#9c27b0" stroke-width="1.4"/>
<clipPath id="f3"><circle cx="1231.8" cy="545.9" r="8.3"/></clipPath><circle cx="1231.8" cy="545.9" r="10" fill="#fff" stroke="#f23645" stroke-width="1.8"/><g clip-path="url(#f3)"><rect x="1222.8" y="536.9" width="18" height="18" fill="#fff"/><rect x="1222.8" y="538.9" width="18" height="2" fill="#ef4a55"/><rect x="1222.8" y="544.1" width="18" height="3.3" fill="#ef4a55"/><rect x="1222.8" y="550.3" width="18" height="5" fill="#ef4a55"/><rect x="1222.8" y="536.9" width="11.3" height="10.8" fill="#2b86e6"/></g><clipPath id="f2"><circle cx="1220.5" cy="545.9" r="8.3"/></clipPath><circle cx="1220.5" cy="545.9" r="10" fill="#fff" stroke="#f23645" stroke-width="1.8"/><g clip-path="url(#f2)"><rect x="1211.5" y="536.9" width="18" height="18" fill="#fff"/><rect x="1211.5" y="538.9" width="18" height="2" fill="#ef4a55"/><rect x="1211.5" y="544.1" width="18" height="3.3" fill="#ef4a55"/><rect x="1211.5" y="550.3" width="18" height="5" fill="#ef4a55"/><rect x="1211.5" y="536.9" width="11.3" height="10.8" fill="#2b86e6"/></g><clipPath id="f1"><circle cx="1209.2" cy="545.9" r="8.3"/></clipPath><circle cx="1209.2" cy="545.9" r="10" fill="#fff" stroke="#f23645" stroke-width="1.8"/><g clip-path="url(#f1)"><rect x="1200.2" y="536.9" width="18" height="18" fill="#fff"/><rect x="1200.2" y="538.9" width="18" height="2" fill="#ef4a55"/><rect x="1200.2" y="544.1" width="18" height="3.3" fill="#ef4a55"/><rect x="1200.2" y="550.3" width="18" height="5" fill="#ef4a55"/><rect x="1200.2" y="536.9" width="11.3" height="10.8" fill="#2b86e6"/></g>
<rect x="1310" y="5" width="1" height="582" fill="#50535e" shape-rendering="crispEdges"/>
<rect x="0" y="559" width="1365" height="1" fill="#50535e" shape-rendering="crispEdges"/>
<rect x="0" y="587" width="1365" height="1" fill="#e0e3eb" shape-rendering="crispEdges"/>
<rect x="0" y="626" width="1365" height="3" fill="#e9eaec" shape-rendering="crispEdges"/>
<clipPath id="pa"><rect x="1311" y="5" width="54" height="554"/></clipPath>
<g clip-path="url(#pa)"><text x="1357.5" y="130.4" font-family="Liberation Sans, sans-serif" font-size="11" fill="#5d5d5d" textLength="38" lengthAdjust="spacingAndGlyphs" text-anchor="end">158.000</text><text x="1357.5" y="178.2" font-family="Liberation Sans, sans-serif" font-size="11" fill="#5d5d5d" textLength="38" lengthAdjust="spacingAndGlyphs" text-anchor="end">156.000</text><text x="1357.5" y="225.9" font-family="Liberation Sans, sans-serif" font-size="11" fill="#5d5d5d" textLength="38" lengthAdjust="spacingAndGlyphs" text-anchor="end">154.000</text><text x="1357.5" y="273.6" font-family="Liberation Sans, sans-serif" font-size="11" fill="#5d5d5d" textLength="38" lengthAdjust="spacingAndGlyphs" text-anchor="end">152.000</text><text x="1357.5" y="321.4" font-family="Liberation Sans, sans-serif" font-size="11" fill="#5d5d5d" textLength="38" lengthAdjust="spacingAndGlyphs" text-anchor="end">150.000</text><text x="1357.5" y="369.1" font-family="Liberation Sans, sans-serif" font-size="11" fill="#5d5d5d" textLength="38" lengthAdjust="spacingAndGlyphs" text-anchor="end">148.000</text><text x="1357.5" y="416.9" font-family="Liberation Sans, sans-serif" font-size="11" fill="#5d5d5d" textLength="38" lengthAdjust="spacingAndGlyphs" text-anchor="end">146.000</text><text x="1357.5" y="464.6" font-family="Liberation Sans, sans-serif" font-size="11" fill="#5d5d5d" textLength="38" lengthAdjust="spacingAndGlyphs" text-anchor="end">144.000</text><text x="1357.5" y="512.4" font-family="Liberation Sans, sans-serif" font-size="11" fill="#5d5d5d" textLength="38" lengthAdjust="spacingAndGlyphs" text-anchor="end">142.000</text><text x="1357.5" y="560.1" font-family="Liberation Sans, sans-serif" font-size="11" fill="#5d5d5d" textLength="38" lengthAdjust="spacingAndGlyphs" text-anchor="end">140.000</text></g>
<path d="M1311,24.0 H1360 A2,2 0 0 1 1362,26.0 V39.0 A2,2 0 0 1 1360,41.0 H1311 Z" fill="#000"/><text x="1357.6" y="36.7" font-family="Liberation Sans, sans-serif" font-size="11" fill="#fff" textLength="38.3" lengthAdjust="spacingAndGlyphs" text-anchor="end" font-weight="bold">161.920</text><path d="M1311,70.0 H1360 A2,2 0 0 1 1362,72.0 V85.0 A2,2 0 0 1 1360,87.0 H1311 Z" fill="#000"/><text x="1357.6" y="82.7" font-family="Liberation Sans, sans-serif" font-size="11" fill="#fff" textLength="38.3" lengthAdjust="spacingAndGlyphs" text-anchor="end" font-weight="bold">160.000</text><path d="M1311,144.8 H1360 A2,2 0 0 1 1362,146.8 V159.8 A2,2 0 0 1 1360,161.8 H1311 Z" fill="#000"/><text x="1357.6" y="157.5" font-family="Liberation Sans, sans-serif" font-size="11" fill="#fff" textLength="38.3" lengthAdjust="spacingAndGlyphs" text-anchor="end" font-weight="bold">156.884</text><path d="M1311,173.9 H1360 A2,2 0 0 1 1362,175.9 V188.9 A2,2 0 0 1 1360,190.9 H1311 Z" fill="#000"/><text x="1357.6" y="186.6" font-family="Liberation Sans, sans-serif" font-size="11" fill="#fff" textLength="38.3" lengthAdjust="spacingAndGlyphs" text-anchor="end" font-weight="bold">155.000</text><path d="M1311,236.9 H1360 A2,2 0 0 1 1362,238.9 V251.9 A2,2 0 0 1 1360,253.9 H1311 Z" fill="#000"/><text x="1357.6" y="249.6" font-family="Liberation Sans, sans-serif" font-size="11" fill="#fff" textLength="38.3" lengthAdjust="spacingAndGlyphs" text-anchor="end" font-weight="bold">153.000</text><path d="M1311,324.1 H1360 A2,2 0 0 1 1362,326.1 V339.1 A2,2 0 0 1 1360,341.1 H1311 Z" fill="#000"/><text x="1357.6" y="336.8" font-family="Liberation Sans, sans-serif" font-size="11" fill="#fff" textLength="38.3" lengthAdjust="spacingAndGlyphs" text-anchor="end" font-weight="bold">149.358</text><path d="M1311,391.0 H1360 A2,2 0 0 1 1362,393.0 V406.0 A2,2 0 0 1 1360,408.0 H1311 Z" fill="#000"/><text x="1357.6" y="403.7" font-family="Liberation Sans, sans-serif" font-size="11" fill="#fff" textLength="38.3" lengthAdjust="spacingAndGlyphs" text-anchor="end" font-weight="bold">146.581</text><path d="M1311,417.1 H1360 A2,2 0 0 1 1362,419.1 V432.1 A2,2 0 0 1 1360,434.1 H1311 Z" fill="#000"/><text x="1357.6" y="429.8" font-family="Liberation Sans, sans-serif" font-size="11" fill="#fff" textLength="38.3" lengthAdjust="spacingAndGlyphs" text-anchor="end" font-weight="bold">145.481</text><path d="M1311,541.0 H1360 A2,2 0 0 1 1362,543.0 V556.0 A2,2 0 0 1 1360,558.0 H1311 Z" fill="#000"/><text x="1357.6" y="553.7" font-family="Liberation Sans, sans-serif" font-size="11" fill="#fff" textLength="38.3" lengthAdjust="spacingAndGlyphs" text-anchor="end" font-weight="bold">140.309</text>
<path d="M1268,190 H1310 V207 H1268 A2,2 0 0 1 1266,205 V192 A2,2 0 0 1 1268,190 Z" fill="#eb4d5c"/>
<text x="1269.5" y="202.9" font-family="Liberation Sans, sans-serif" font-size="10.5" fill="#fff" textLength="36.7" lengthAdjust="spacingAndGlyphs" font-weight="bold">USDJPY</text>
<text x="177.5" y="576.2" font-family="Liberation Sans, sans-serif" font-size="11" fill="#4a4a4a" stroke="#4a4a4a" stroke-width="0.2" text-anchor="middle">Aug</text>
<text x="413.5" y="576.2" font-family="Liberation Sans, sans-serif" font-size="11" fill="#4a4a4a" stroke="#4a4a4a" stroke-width="0.2" text-anchor="middle">Sep</text>
<text x="660.5" y="576.2" font-family="Liberation Sans, sans-serif" font-size="11" fill="#4a4a4a" stroke="#4a4a4a" stroke-width="0.2" text-anchor="middle">Oct</text>
<text x="918.5" y="576.2" font-family="Liberation Sans, sans-serif" font-size="11" fill="#4a4a4a" stroke="#4a4a4a" stroke-width="0.2" text-anchor="middle">Nov</text>
<text x="1142.5" y="576.2" font-family="Liberation Sans, sans-serif" font-size="11" fill="#4a4a4a" stroke="#4a4a4a" stroke-width="0.2" text-anchor="middle">Dec</text>
<path d="M1334.6,567.3 H1342.2 L1345.9,573.5 L1342.2,579.7 H1334.6 L1330.9,573.5 Z" fill="none" stroke="#131722" stroke-width="1.1"/>
<circle cx="1338.4" cy="573.5" r="1.9" fill="none" stroke="#131722" stroke-width="1.2"/>
<text x="14.8" y="612" font-family="Liberation Sans, sans-serif" font-size="13" fill="#131722" stroke="#131722" stroke-width="0.3" textLength="14.2" lengthAdjust="spacingAndGlyphs">1D</text><text x="42.4" y="612" font-family="Liberation Sans, sans-serif" font-size="13" fill="#131722" stroke="#131722" stroke-width="0.3" textLength="14.7" lengthAdjust="spacingAndGlyphs">5D</text><text x="71" y="612" font-family="Liberation Sans, sans-serif" font-size="13" fill="#131722" stroke="#131722" stroke-width="0.3" textLength="16.1" lengthAdjust="spacingAndGlyphs">1M</text><text x="99.5" y="612" font-family="Liberation Sans, sans-serif" font-size="13" fill="#131722" stroke="#131722" stroke-width="0.3" textLength="16.7" lengthAdjust="spacingAndGlyphs">3M</text><text x="128.8" y="612" font-family="Liberation Sans, sans-serif" font-size="13" fill="#131722" stroke="#131722" stroke-width="0.3" textLength="16.8" lengthAdjust="spacingAndGlyphs">6M</text><text x="157.8" y="612" font-family="Liberation Sans, sans-serif" font-size="13" fill="#131722" stroke="#131722" stroke-width="0.3" textLength="23.7" lengthAdjust="spacingAndGlyphs">YTD</text><text x="195.5" y="612" font-family="Liberation Sans, sans-serif" font-size="13" fill="#131722" stroke="#131722" stroke-width="0.3" textLength="13.1" lengthAdjust="spacingAndGlyphs">1Y</text><text x="222.6" y="612" font-family="Liberation Sans, sans-serif" font-size="13" fill="#131722" stroke="#131722" stroke-width="0.3" textLength="13.9" lengthAdjust="spacingAndGlyphs">5Y</text><text x="248.9" y="612" font-family="Liberation Sans, sans-serif" font-size="13" fill="#131722" stroke="#131722" stroke-width="0.3" textLength="16.2" lengthAdjust="spacingAndGlyphs">All</text>
<rect x="276" y="596.5" width="1" height="21" fill="#e0e3eb"/>
<g fill="none" stroke="#131722" stroke-width="1.15" stroke-linecap="round" stroke-linejoin="round"><path d="M291.5,605.5 V601.5 A2,2 0 0 1 293.5,599.5 H306.3 A2,2 0 0 1 308.3,601.5 V612.4 A2,2 0 0 1 306.3,614.4 H300.3"/><path d="M291.5,603.4 H308.3"/><path d="M296.4,597.2 V600.9 M303.4,597.2 V600.9"/><path d="M290.2,611.4 H297.6 M294.4,608.2 L297.6,611.4 L294.4,614.6"/></g>
<text x="1272" y="611.8" font-family="Liberation Sans, sans-serif" font-size="13" fill="#131722" stroke="#131722" stroke-width="0.3" textLength="83.1" lengthAdjust="spacingAndGlyphs">03:07:23 UTC</text>
</svg></body></html>
